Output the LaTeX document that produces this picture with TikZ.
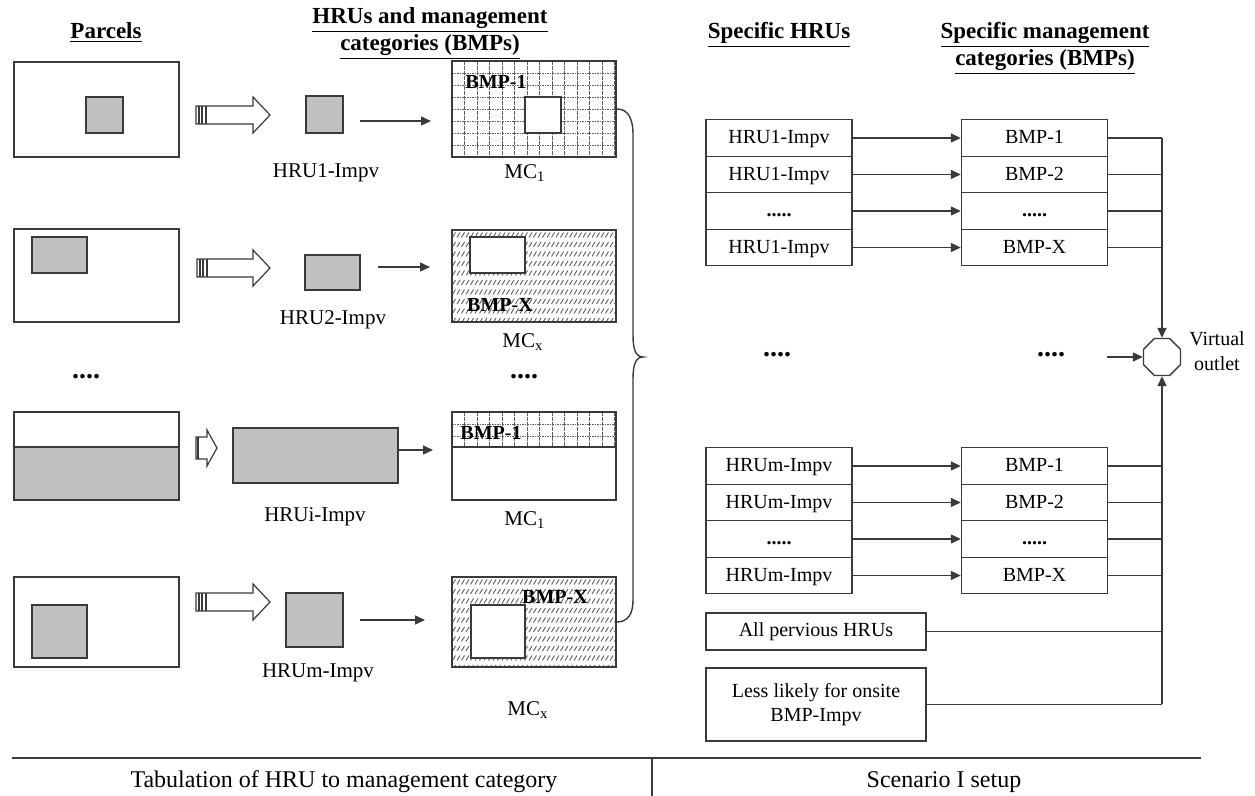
\documentclass[tikz,border=0pt]{standalone}
\usepackage{fontspec}
\setmainfont{Liberation Serif}
\usetikzlibrary{shapes.geometric,arrows.meta,fit,calc}
\definecolor{ln}{HTML}{3A3A3A}
\definecolor{gfill}{HTML}{C0C0C0}
\definecolor{pat}{HTML}{606060}
% block (hollow) arrow: x0 yc xb xt halfbody halfhead
\newcommand{\blkarrow}[6]{%
  \draw[harrow] (#1,{#2-#5}) -- (#3,{#2-#5}) -- (#3,{#2-#6}) -- (#4,#2) -- (#3,{#2+#6}) -- (#3,{#2+#5}) -- (#1,{#2+#5}) -- cycle;
  \draw[harrow] ({#1+3},{#2-#5}) -- ({#1+3},{#2+#5}) ({#1+6},{#2-#5}) -- ({#1+6},{#2+#5}) ({#1+10},{#2-#5}) -- ({#1+10},{#2+#5});}
\newcommand{\gridfill}[4]{% x1 y1 x2 y2
  \begin{scope}
    \clip (#1,#2) rectangle (#3,#4);
    \foreach \xx in {0,12.5,...,170} \draw[gridl] ({#1+\xx+12.5},#2) -- ({#1+\xx+12.5},#4);
    \foreach \yy in {0,12,...,100} \draw[gridl] (#1,{#2+\yy+12}) -- (#3,{#2+\yy+12});
  \end{scope}}
\newcommand{\hatchfill}[4]{% x1 y1 x2 y2
  \begin{scope}
    \clip (#1,#2) rectangle (#3,#4);
    \foreach \yy in {5,14.5,...,100}
      \draw[hatch] \foreach \xx in {-4,0.5,...,170} {({#1+\xx},{#2+\yy+2.5}) -- ++(3,-5)};
  \end{scope}}
\begin{document}
\begin{tikzpicture}[x=0.5pt,y=-0.5pt,
  rect/.style={draw=ln, line width=0.7pt, inner sep=0pt},
  grayr/.style={rect, fill=gfill},
  whiter/.style={rect, fill=white},
  lbl/.style={font=\fontsize{10.5}{12}\selectfont, inner sep=0pt},
  ttl/.style={font=\fontsize{11.5}{13.5}\selectfont\bfseries, align=center, inner sep=0pt},
  bmpl/.style={font=\fontsize{10}{12}\selectfont\bfseries, inner sep=0pt},
  tb/.style={draw=ln, line width=0.7pt, minimum width=73pt, minimum height=18.25pt, inner sep=0pt, text height=7pt, text depth=1pt, font=\fontsize{10}{12}\selectfont},
  wb/.style={draw=ln, line width=0.7pt, minimum width=110pt, inner sep=0pt, font=\fontsize{10}{12}\selectfont, align=center},
  arr/.style={draw=ln, line width=0.7pt, -{Triangle[length=5pt,width=4.5pt]}},
  wire/.style={draw=ln, line width=0.7pt},
  harrow/.style={draw=ln, line width=0.6pt, fill=white},
  gridl/.style={draw=pat, line width=0.45pt, dash pattern=on 0.8pt off 0.45pt},
  hatch/.style={draw=pat, line width=0.45pt},
  dotrow/.style={font=\fontsize{14}{14}\selectfont\bfseries, inner sep=0pt},
  bottomtxt/.style={font=\fontsize{12}{14}\selectfont, inner sep=0pt},
]
\fill[white] (0,0) rectangle (1255,796);
\useasboundingbox (0,0) rectangle (1255,796);

% ---------- titles ----------
\node[ttl] (tP) at (106,33) {\underline{Parcels}};
\node[ttl] (tH) at (430,34) {\underline{HRUs and management}\\\underline{categories (BMPs)}};
\node[ttl] (tS) at (779,35) {\underline{Specific HRUs}};
\node[ttl] (tM) at (1045,48) {\underline{Specific management}\\\underline{categories (BMPs)}};

% ---------- row 1 ----------
\node[rect, fit={(14,62)(179,157)}] (p1) {};
\node[grayr, fit={(86,97)(123,133)}] (g1) {};
\blkarrow{196}{115}{253}{270}{9}{18}
\node[grayr, fit={(306,96)(343,133)}] (h1) {};
\node[lbl] (l1) at (326,173) {HRU1-Impv};
\gridfill{452}{61}{616}{157}
\node[rect, fit={(452,61)(616,157)}] (m1) {};
\node[whiter, fit={(525,97)(561,133)}] (w1) {};
\node[bmpl] (k1) at (496,82) {BMP-1};
\node[lbl] (c1) at (525,173) {MC\textsubscript{1}};
\coordinate (a1s) at (360,121); \coordinate (a1e) at (431,121);
\draw[arr] (a1s) -- (a1e);

% ---------- row 2 ----------
\node[rect, fit={(14,229)(179,322)}] (p2) {};
\node[grayr, fit={(32,237)(87,273)}] (g2) {};
\blkarrow{197}{268}{253}{270}{9}{18}
\node[grayr, fit={(305,255)(360,290)}] (h2) {};
\node[lbl] (l2) at (333,320) {HRU2-Impv};
\hatchfill{452}{230}{616}{322}
\node[rect, fit={(452,230)(616,322)}] (m2) {};
\node[whiter, fit={(470,237)(525,273)}] (w2) {};
\node[bmpl] (k2) at (500,305) {BMP-X};
\node[lbl] (c2) at (523,342) {MC\textsubscript{x}};
\coordinate (a2s) at (378,267); \coordinate (a2e) at (430,267);
\draw[arr] (a2s) -- (a2e);

% dots
\node[dotrow] (dL) at (86,377) {....};
\node[dotrow] (dM) at (524,377) {....};

% ---------- row 3 ----------
\node[rect, fit={(14,412)(179,447)}] (p3a) {};
\node[grayr, fit={(14,447)(179,500)}] (p3b) {};
\draw[harrow] (196,437) -- (207,437) -- (207,430) -- (217,448) -- (207,466) -- (207,459) -- (196,459) -- cycle;
\draw[harrow] (198,437) -- (198,459);
\node[grayr, fit={(233,428)(398,483)}] (h3) {};
\node[lbl] (l3) at (315,517) {HRUi-Impv};
\gridfill{452}{412}{616}{447}
\node[rect, fit={(452,412)(616,500)}] (m3) {};
\draw[wire] (m3.west |- 0,447) -- (m3.east |- 0,447);
\node[bmpl] (k3) at (491,433) {BMP-1};
\node[lbl] (c3) at (525,520) {MC\textsubscript{1}};
\coordinate (a3e) at (433,450);
\draw[arr] (h3.east |- a3e) -- (a3e);

% ---------- row 4 ----------
\node[rect, fit={(14,577)(179,667)}] (p4) {};
\node[grayr, fit={(32,605)(87,658)}] (g4) {};
\blkarrow{196}{602}{253}{270}{9}{18}
\node[grayr, fit={(286,593)(343,647)}] (h4) {};
\node[lbl] (l4) at (318,673) {HRUm-Impv};
\hatchfill{452}{577}{616}{667}
\node[rect, fit={(452,577)(616,667)}] (m4) {};
\node[whiter, fit={(471,605)(525,658)}] (w4) {};
\node[bmpl] (k4) at (555,597) {BMP-X};
\node[lbl] (c4) at (528,710) {MC\textsubscript{x}};
\coordinate (a4s) at (360,620); \coordinate (a4e) at (425,620);
\draw[arr] (a4s) -- (a4e);

% ---------- brace ----------
\draw[wire] (m1.east) .. controls (628,109) and (633,118) .. (633,135) -- (633,335)
  .. controls (633,350) and (636,357) .. (643,357)
  .. controls (636,357) and (633,364) .. (633,379) -- (633,600)
  .. controls (633,614) and (628,622) .. (m4.east);

% ---------- right panel ----------
\node[tb] (u1) at (779,138) {HRU1-Impv};
\node[tb] (u2) at (779,174.5) {HRU1-Impv};
\node[tb] (u3) at (779,211) {\textbf{.....}};
\node[tb] (u4) at (779,247.5) {HRU1-Impv};
\node[tb] (b1) at (1034.5,138) {BMP-1};
\node[tb] (b2) at (1034.5,174.5) {BMP-2};
\node[tb] (b3) at (1034.5,211) {\textbf{.....}};
\node[tb] (b4) at (1034.5,247.5) {BMP-X};

\node[tb] (u5) at (779,466) {HRUm-Impv};
\node[tb] (u6) at (779,502.5) {HRUm-Impv};
\node[tb] (u7) at (779,539) {\textbf{.....}};
\node[tb] (u8) at (779,575.5) {HRUm-Impv};
\node[tb] (b5) at (1034.5,466) {BMP-1};
\node[tb] (b6) at (1034.5,502.5) {BMP-2};
\node[tb] (b7) at (1034.5,539) {\textbf{.....}};
\node[tb] (b8) at (1034.5,575.5) {BMP-X};

\node[wb, minimum height=18.5pt] (ap) at (816,631.5) {All pervious HRUs};
\node[wb, minimum height=36.5pt] (lk) at (816,704.5) {Less likely for onsite\\BMP-Impv};

\node[regular polygon, regular polygon sides=8, draw=ln, line width=0.7pt, minimum size=20pt, inner sep=0pt] (oc) at (1162,357) {};
\node[font=\fontsize{10}{12.5}\selectfont, align=center, inner sep=0pt] (vo) at (1217,351) {Virtual\\outlet};

\node[dotrow] (d3) at (777,355) {....};
\node[dotrow] (d4) at (1051,355) {....};

\foreach \i in {1,...,8} {
  \draw[arr] (u\i.east) -- (b\i.west);
  \draw[wire] (b\i.east) -- (b\i.east -| oc.center);
}
\draw[arr] (b1.east -| oc.center) -- (oc.north);
\draw[wire] (ap.east) -- (ap.east -| oc.center);
\draw[wire] (lk.east) -- (lk.east -| oc.center);
\draw[arr] (lk.east -| oc.center) -- (oc.south);
\coordinate (inL) at (1107,357);
\draw[arr] (inL) -- (oc.west);

% ---------- bottom ----------
\coordinate (bl) at (12,758); \coordinate (br) at (1201,758);
\draw[wire] (bl) -- (br);
\coordinate (dt) at (652,758); \coordinate (db) at (652,796);
\draw[wire] (dt) -- (db);
\node[bottomtxt] (bt1) at (344,782) {Tabulation of HRU to management category};
\node[bottomtxt] (bt2) at (944,782) {Scenario I setup};
\end{tikzpicture}
\end{document}
